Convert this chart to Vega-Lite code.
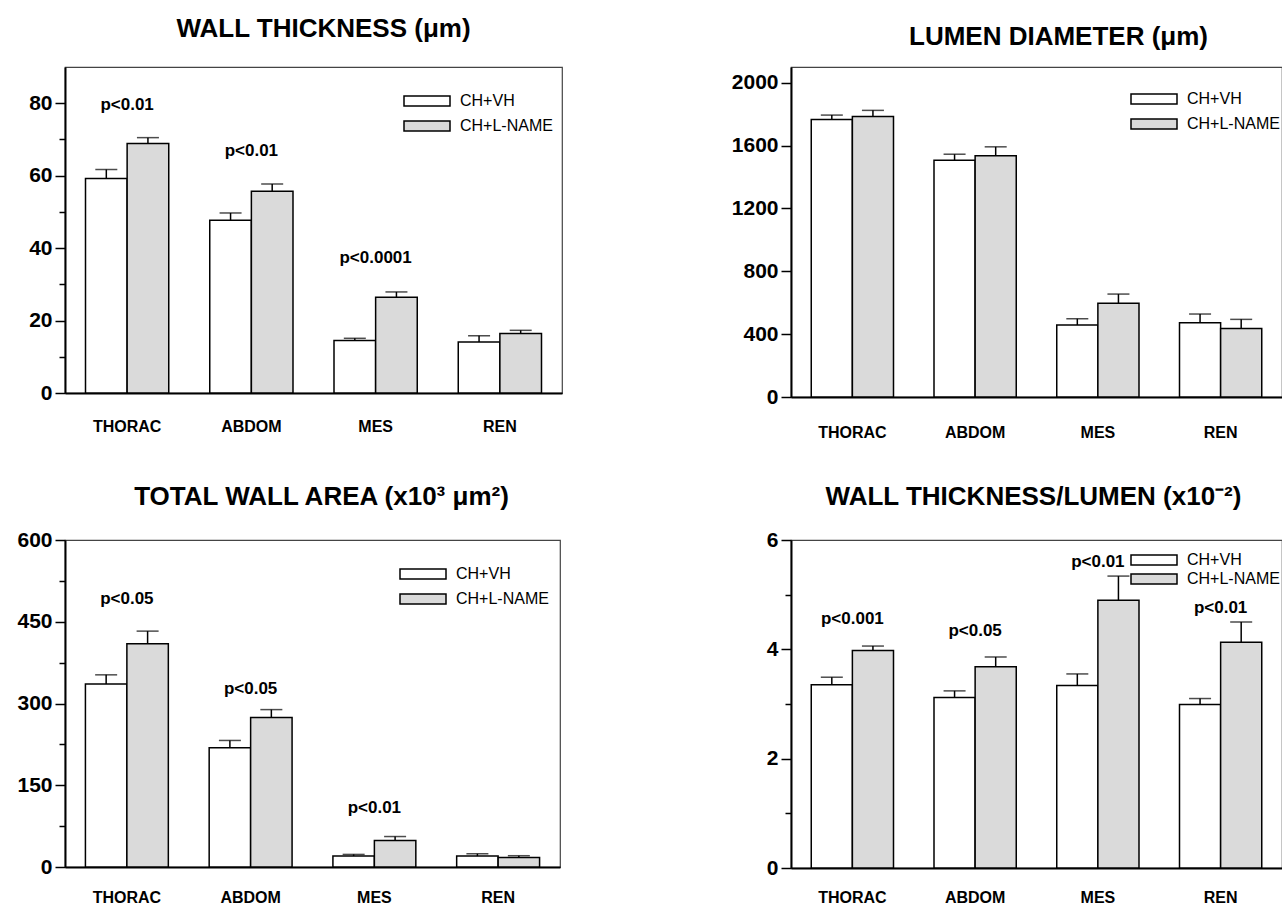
{
  "$schema": "https://vega.github.io/schema/vega-lite/v6.json",
  "background": "white",
  "padding": {"left": 16, "top": 15, "right": 0, "bottom": 0},
  "datasets": {
    "bars": [
      {"panel": "WT", "site": "THORAC", "group": "CH+VH", "mean": 59.2, "upper": 61.7},
      {"panel": "WT", "site": "THORAC", "group": "CH+L-NAME", "mean": 68.9, "upper": 70.5},
      {"panel": "WT", "site": "ABDOM", "group": "CH+VH", "mean": 47.7, "upper": 49.7},
      {"panel": "WT", "site": "ABDOM", "group": "CH+L-NAME", "mean": 55.7, "upper": 57.7},
      {"panel": "WT", "site": "MES", "group": "CH+VH", "mean": 14.5, "upper": 15.1},
      {"panel": "WT", "site": "MES", "group": "CH+L-NAME", "mean": 26.4, "upper": 27.9},
      {"panel": "WT", "site": "REN", "group": "CH+VH", "mean": 14.1, "upper": 15.8},
      {"panel": "WT", "site": "REN", "group": "CH+L-NAME", "mean": 16.4, "upper": 17.3},
      {"panel": "LD", "site": "THORAC", "group": "CH+VH", "mean": 1766, "upper": 1794},
      {"panel": "LD", "site": "THORAC", "group": "CH+L-NAME", "mean": 1785, "upper": 1824},
      {"panel": "LD", "site": "ABDOM", "group": "CH+VH", "mean": 1506, "upper": 1545},
      {"panel": "LD", "site": "ABDOM", "group": "CH+L-NAME", "mean": 1536, "upper": 1592},
      {"panel": "LD", "site": "MES", "group": "CH+VH", "mean": 458, "upper": 498},
      {"panel": "LD", "site": "MES", "group": "CH+L-NAME", "mean": 597, "upper": 655},
      {"panel": "LD", "site": "REN", "group": "CH+VH", "mean": 473, "upper": 528},
      {"panel": "LD", "site": "REN", "group": "CH+L-NAME", "mean": 436, "upper": 494},
      {"panel": "WA", "site": "THORAC", "group": "CH+VH", "mean": 335.6, "upper": 352.6},
      {"panel": "WA", "site": "THORAC", "group": "CH+L-NAME", "mean": 409.7, "upper": 432.8},
      {"panel": "WA", "site": "ABDOM", "group": "CH+VH", "mean": 218.8, "upper": 232.2},
      {"panel": "WA", "site": "ABDOM", "group": "CH+L-NAME", "mean": 274.2, "upper": 288.8},
      {"panel": "WA", "site": "MES", "group": "CH+VH", "mean": 20.1, "upper": 23.1},
      {"panel": "WA", "site": "MES", "group": "CH+L-NAME", "mean": 48.6, "upper": 55.9},
      {"panel": "WA", "site": "REN", "group": "CH+VH", "mean": 20.0, "upper": 24.3},
      {"panel": "WA", "site": "REN", "group": "CH+L-NAME", "mean": 17.6, "upper": 20.7},
      {"panel": "WL", "site": "THORAC", "group": "CH+VH", "mean": 3.35, "upper": 3.49},
      {"panel": "WL", "site": "THORAC", "group": "CH+L-NAME", "mean": 3.98, "upper": 4.06},
      {"panel": "WL", "site": "ABDOM", "group": "CH+VH", "mean": 3.12, "upper": 3.24},
      {"panel": "WL", "site": "ABDOM", "group": "CH+L-NAME", "mean": 3.68, "upper": 3.86},
      {"panel": "WL", "site": "MES", "group": "CH+VH", "mean": 3.34, "upper": 3.55},
      {"panel": "WL", "site": "MES", "group": "CH+L-NAME", "mean": 4.90, "upper": 5.34},
      {"panel": "WL", "site": "REN", "group": "CH+VH", "mean": 2.99, "upper": 3.10},
      {"panel": "WL", "site": "REN", "group": "CH+L-NAME", "mean": 4.13, "upper": 4.50}
    ],
    "pvals": [
      {"panel": "WT", "site": "THORAC", "label": "p<0.01", "pos": 79.5},
      {"panel": "WT", "site": "ABDOM", "label": "p<0.01", "pos": 66.8},
      {"panel": "WT", "site": "MES", "label": "p<0.0001", "pos": 37.2},
      {"panel": "WA", "site": "THORAC", "label": "p<0.05", "pos": 492},
      {"panel": "WA", "site": "ABDOM", "label": "p<0.05", "pos": 326},
      {"panel": "WA", "site": "MES", "label": "p<0.01", "pos": 109},
      {"panel": "WL", "site": "THORAC", "label": "p<0.001", "pos": 4.55},
      {"panel": "WL", "site": "ABDOM", "label": "p<0.05", "pos": 4.34},
      {"panel": "WL", "site": "MES", "label": "p<0.01", "pos": 5.59},
      {"panel": "WL", "site": "REN", "label": "p<0.01", "pos": 4.75}
    ]
  },
  "columns": 2,
  "bounds": "flush",
  "spacing": {"row": 143, "column": 229},
  "resolve": {
    "scale": {"x": "independent", "y": "independent", "fill": "independent", "xOffset": "independent"},
    "legend": {"fill": "independent"},
    "axis": {"x": "independent", "y": "independent"}
  },
  "concat": [
    {
      "width": 497, "height": 326,
      "title": {"text": "WALL THICKNESS (μm)", "offset": 25, "dx": 10},
      "layer": [
        {
          "data": {"name": "bars"},
          "transform": [{"filter": "datum.panel === 'WT'"}],
          "mark": {"type": "bar", "stroke": "black", "strokeWidth": 1.5},
          "encoding": {
            "x": {"field": "site", "type": "nominal", "sort": ["THORAC", "ABDOM", "MES", "REN"], "scale": {"paddingInner": 0.33, "paddingOuter": 0.165}, "axis": {"title": null, "ticks": false, "labelAngle": 0, "labelPadding": 25}},
            "xOffset": {"field": "group", "type": "nominal", "sort": ["CH+VH", "CH+L-NAME"], "scale": {"paddingInner": 0, "paddingOuter": 0}},
            "y": {"field": "mean", "type": "quantitative", "scale": {"domain": [0, 90], "nice": false},
              "axis": {"title": null, "format": "d", "values": [0, 10, 20, 30, 40, 50, 60, 70, 80], "labelExpr": "datum.value % 20 === 0 ? datum.label : ''",
                "tickSize": {"condition": {"test": "datum.value % 20 === 0", "value": 10}, "value": 6}}},
            "fill": {"field": "group", "type": "nominal", "scale": {"domain": ["CH+VH", "CH+L-NAME"], "range": ["white", "#dadada"]},
              "legend": {"orient": "none", "legendX": 354, "legendY": 26}}
          }
        },
        {
          "data": {"name": "bars"},
          "transform": [{"filter": "datum.panel === 'WT'"}],
          "mark": {"type": "rule", "color": "black", "strokeWidth": 1.5},
          "encoding": {
            "x": {"field": "site", "type": "nominal", "sort": ["THORAC", "ABDOM", "MES", "REN"]},
            "xOffset": {"field": "group", "type": "nominal", "sort": ["CH+VH", "CH+L-NAME"]},
            "y": {"field": "mean", "type": "quantitative"},
            "y2": {"field": "upper"}
          }
        },
        {
          "data": {"name": "bars"},
          "transform": [{"filter": "datum.panel === 'WT'"}],
          "mark": {"type": "tick", "color": "black", "thickness": 1.5, "size": 22},
          "encoding": {
            "x": {"field": "site", "type": "nominal", "sort": ["THORAC", "ABDOM", "MES", "REN"]},
            "xOffset": {"field": "group", "type": "nominal", "sort": ["CH+VH", "CH+L-NAME"]},
            "y": {"field": "upper", "type": "quantitative"}
          }
        },
        {
          "data": {"name": "pvals"},
          "transform": [{"filter": "datum.panel === 'WT'"}],
          "mark": {"type": "text", "fontSize": 17, "fontWeight": "bold", "font": "Liberation Sans", "color": "black", "baseline": "middle"},
          "encoding": {
            "x": {"field": "site", "type": "nominal", "sort": ["THORAC", "ABDOM", "MES", "REN"]},
            "y": {"field": "pos", "type": "quantitative"},
            "text": {"field": "label"}
          }
        }
      ]
    },
    {
      "width": 491, "height": 330,
      "title": {"text": "LUMEN DIAMETER (μm)", "offset": 17, "dx": 22},
      "layer": [
        {
          "data": {"name": "bars"},
          "transform": [{"filter": "datum.panel === 'LD'"}],
          "mark": {"type": "bar", "stroke": "black", "strokeWidth": 1.5},
          "encoding": {
            "x": {"field": "site", "type": "nominal", "sort": ["THORAC", "ABDOM", "MES", "REN"], "scale": {"paddingInner": 0.33, "paddingOuter": 0.165}, "axis": {"title": null, "ticks": false, "labelAngle": 0, "labelPadding": 27}},
            "xOffset": {"field": "group", "type": "nominal", "sort": ["CH+VH", "CH+L-NAME"], "scale": {"paddingInner": 0, "paddingOuter": 0}},
            "y": {"field": "mean", "type": "quantitative", "scale": {"domain": [0, 2100], "nice": false},
              "axis": {"title": null, "format": "d", "values": [0, 200, 400, 600, 800, 1000, 1200, 1400, 1600, 1800, 2000], "labelExpr": "datum.value % 400 === 0 ? datum.label : ''",
                "tickSize": {"condition": {"test": "datum.value % 400 === 0", "value": 10}, "value": 6}}},
            "fill": {"field": "group", "type": "nominal", "scale": {"domain": ["CH+VH", "CH+L-NAME"], "range": ["white", "#dadada"]},
              "legend": {"orient": "none", "legendX": 355, "legendY": 24}}
          }
        },
        {
          "data": {"name": "bars"},
          "transform": [{"filter": "datum.panel === 'LD'"}],
          "mark": {"type": "rule", "color": "black", "strokeWidth": 1.5},
          "encoding": {
            "x": {"field": "site", "type": "nominal", "sort": ["THORAC", "ABDOM", "MES", "REN"]},
            "xOffset": {"field": "group", "type": "nominal", "sort": ["CH+VH", "CH+L-NAME"]},
            "y": {"field": "mean", "type": "quantitative"},
            "y2": {"field": "upper"}
          }
        },
        {
          "data": {"name": "bars"},
          "transform": [{"filter": "datum.panel === 'LD'"}],
          "mark": {"type": "tick", "color": "black", "thickness": 1.5, "size": 22},
          "encoding": {
            "x": {"field": "site", "type": "nominal", "sort": ["THORAC", "ABDOM", "MES", "REN"]},
            "xOffset": {"field": "group", "type": "nominal", "sort": ["CH+VH", "CH+L-NAME"]},
            "y": {"field": "upper", "type": "quantitative"}
          }
        }
      ]
    },
    {
      "width": 495, "height": 327,
      "title": {"text": "TOTAL WALL AREA (x10³ μm²)", "offset": 19, "dx": 9},
      "layer": [
        {
          "data": {"name": "bars"},
          "transform": [{"filter": "datum.panel === 'WA'"}],
          "mark": {"type": "bar", "stroke": "black", "strokeWidth": 1.5},
          "encoding": {
            "x": {"field": "site", "type": "nominal", "sort": ["THORAC", "ABDOM", "MES", "REN"], "scale": {"paddingInner": 0.33, "paddingOuter": 0.165}, "axis": {"title": null, "ticks": false, "labelAngle": 0, "labelPadding": 22}},
            "xOffset": {"field": "group", "type": "nominal", "sort": ["CH+VH", "CH+L-NAME"], "scale": {"paddingInner": 0, "paddingOuter": 0}},
            "y": {"field": "mean", "type": "quantitative", "scale": {"domain": [0, 600], "nice": false},
              "axis": {"title": null, "format": "d", "values": [0, 75, 150, 225, 300, 375, 450, 525, 600], "labelExpr": "datum.value % 150 === 0 ? datum.label : ''",
                "tickSize": {"condition": {"test": "datum.value % 150 === 0", "value": 10}, "value": 6}}},
            "fill": {"field": "group", "type": "nominal", "scale": {"domain": ["CH+VH", "CH+L-NAME"], "range": ["white", "#dadada"]},
              "legend": {"orient": "none", "legendX": 350, "legendY": 26}}
          }
        },
        {
          "data": {"name": "bars"},
          "transform": [{"filter": "datum.panel === 'WA'"}],
          "mark": {"type": "rule", "color": "black", "strokeWidth": 1.5},
          "encoding": {
            "x": {"field": "site", "type": "nominal", "sort": ["THORAC", "ABDOM", "MES", "REN"]},
            "xOffset": {"field": "group", "type": "nominal", "sort": ["CH+VH", "CH+L-NAME"]},
            "y": {"field": "mean", "type": "quantitative"},
            "y2": {"field": "upper"}
          }
        },
        {
          "data": {"name": "bars"},
          "transform": [{"filter": "datum.panel === 'WA'"}],
          "mark": {"type": "tick", "color": "black", "thickness": 1.5, "size": 22},
          "encoding": {
            "x": {"field": "site", "type": "nominal", "sort": ["THORAC", "ABDOM", "MES", "REN"]},
            "xOffset": {"field": "group", "type": "nominal", "sort": ["CH+VH", "CH+L-NAME"]},
            "y": {"field": "upper", "type": "quantitative"}
          }
        },
        {
          "data": {"name": "pvals"},
          "transform": [{"filter": "datum.panel === 'WA'"}],
          "mark": {"type": "text", "fontSize": 17, "fontWeight": "bold", "font": "Liberation Sans", "color": "black", "baseline": "middle"},
          "encoding": {
            "x": {"field": "site", "type": "nominal", "sort": ["THORAC", "ABDOM", "MES", "REN"]},
            "y": {"field": "pos", "type": "quantitative"},
            "text": {"field": "label"}
          }
        }
      ]
    },
    {
      "width": 491, "height": 328,
      "title": {"text": "WALL THICKNESS/LUMEN (x10⁻²)", "offset": 19, "dx": -3},
      "layer": [
        {
          "data": {"name": "bars"},
          "transform": [{"filter": "datum.panel === 'WL'"}],
          "mark": {"type": "bar", "stroke": "black", "strokeWidth": 1.5},
          "encoding": {
            "x": {"field": "site", "type": "nominal", "sort": ["THORAC", "ABDOM", "MES", "REN"], "scale": {"paddingInner": 0.33, "paddingOuter": 0.165}, "axis": {"title": null, "ticks": false, "labelAngle": 0, "labelPadding": 21}},
            "xOffset": {"field": "group", "type": "nominal", "sort": ["CH+VH", "CH+L-NAME"], "scale": {"paddingInner": 0, "paddingOuter": 0}},
            "y": {"field": "mean", "type": "quantitative", "scale": {"domain": [0, 6], "nice": false},
              "axis": {"title": null, "format": "d", "values": [0, 1, 2, 3, 4, 5, 6], "labelExpr": "datum.value % 2 === 0 ? datum.label : ''",
                "tickSize": {"condition": {"test": "datum.value % 2 === 0", "value": 10}, "value": 6}}},
            "fill": {"field": "group", "type": "nominal", "scale": {"domain": ["CH+VH", "CH+L-NAME"], "range": ["white", "#dadada"]},
              "legend": {"orient": "none", "legendX": 355, "legendY": 12, "rowPadding": 3}}
          }
        },
        {
          "data": {"name": "bars"},
          "transform": [{"filter": "datum.panel === 'WL'"}],
          "mark": {"type": "rule", "color": "black", "strokeWidth": 1.5},
          "encoding": {
            "x": {"field": "site", "type": "nominal", "sort": ["THORAC", "ABDOM", "MES", "REN"]},
            "xOffset": {"field": "group", "type": "nominal", "sort": ["CH+VH", "CH+L-NAME"]},
            "y": {"field": "mean", "type": "quantitative"},
            "y2": {"field": "upper"}
          }
        },
        {
          "data": {"name": "bars"},
          "transform": [{"filter": "datum.panel === 'WL'"}],
          "mark": {"type": "tick", "color": "black", "thickness": 1.5, "size": 22},
          "encoding": {
            "x": {"field": "site", "type": "nominal", "sort": ["THORAC", "ABDOM", "MES", "REN"]},
            "xOffset": {"field": "group", "type": "nominal", "sort": ["CH+VH", "CH+L-NAME"]},
            "y": {"field": "upper", "type": "quantitative"}
          }
        },
        {
          "data": {"name": "pvals"},
          "transform": [{"filter": "datum.panel === 'WL'"}],
          "mark": {"type": "text", "fontSize": 17, "fontWeight": "bold", "font": "Liberation Sans", "color": "black", "baseline": "middle"},
          "encoding": {
            "x": {"field": "site", "type": "nominal", "sort": ["THORAC", "ABDOM", "MES", "REN"]},
            "y": {"field": "pos", "type": "quantitative"},
            "text": {"field": "label"}
          }
        }
      ]
    }
  ],
  "config": {
    "font": "Liberation Sans",
    "view": {"stroke": "#444", "strokeWidth": 1.2},
    "title": {"fontSize": 26, "fontWeight": "bold", "font": "Liberation Sans", "color": "black", "anchor": "middle"},
    "axis": {"labelFont": "Liberation Sans", "labelColor": "black", "domainColor": "black", "domainWidth": 2, "tickColor": "black", "tickWidth": 1.5, "grid": false},
    "axisX": {"labelFontSize": 16, "labelFontWeight": "bold"},
    "axisY": {"labelFontSize": 21, "labelFontWeight": "bold", "labelPadding": 3, "labelOverlap": false},
    "legend": {"title": null, "symbolType": "M-4.6,-1H4.6V1H-4.6Z", "symbolSize": 100, "symbolStrokeColor": "black", "symbolStrokeWidth": 1.5, "symbolOpacity": 1, "labelFont": "Liberation Sans", "labelFontSize": 16, "labelColor": "black", "labelOffset": 25, "rowPadding": 9, "padding": 0}
  }
}
